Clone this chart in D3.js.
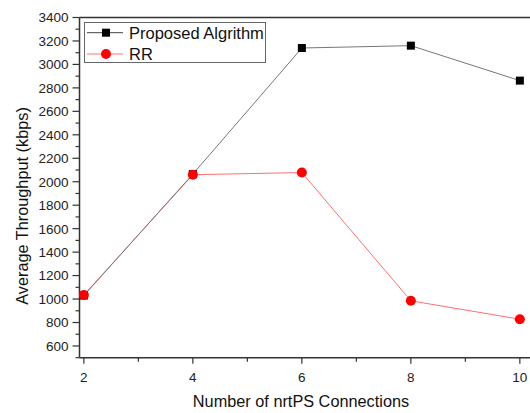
<!DOCTYPE html>
<html>
<head>
<meta charset="utf-8">
<script src="https://cdn.jsdelivr.net/npm/d3@7"></script>
<style>
  body { margin: 0; background: #fff; }
  svg { display: block; font-family: "Liberation Sans", Arial, sans-serif; }
</style>
</head>
<body>
<div id="chart"></div>
<script>
// values
var connections = [2, 4, 6, 8, 10];
var proposedVals = [1030, 2065, 3140, 3160, 2862];
var rrVals = [1035, 2060, 2078, 985, 828];
var seriesNames = ["Proposed Algrithm", "RR"];
var yTicks = [600, 800, 1000, 1200, 1400, 1600, 1800, 2000, 2200, 2400, 2600, 2800, 3000, 3200, 3400];
var xTicks = [2, 4, 6, 8, 10];

var width = 530, height = 413;
var plotLeft = 79.5, plotTop = 17.5, plotBottom = 357.7;

var svg = d3.select("#chart").append("svg")
    .attr("width", width)
    .attr("height", height);

var x = d3.scaleLinear().domain([1.92, 10.2]).range([plotLeft, plotLeft + 8.28 * 54.5]);
var y = d3.scaleLinear().domain([500, 3400]).range([plotBottom, plotTop]);

// top frame line
svg.append("line")
    .attr("x1", plotLeft).attr("x2", width)
    .attr("y1", plotTop).attr("y2", plotTop)
    .attr("stroke", "#333").attr("stroke-width", 1.5);

// y axis, major + minor
var yAxis = svg.append("g").attr("transform", "translate(" + plotLeft + ",0)");
yAxis.append("line")
    .attr("x1", 0).attr("x2", 0).attr("y1", plotTop).attr("y2", plotBottom)
    .attr("stroke", "#333").attr("stroke-width", 1.5);
yAxis.selectAll(".minor").data(d3.range(500, 3400, 100).filter(function(d){ return d % 200 != 0; }))
  .enter().append("line")
    .attr("x1", -4).attr("x2", 0)
    .attr("y1", function(d){ return y(d); }).attr("y2", function(d){ return y(d); })
    .attr("stroke", "#333").attr("stroke-width", 1.2);
yAxis.selectAll(".major").data(yTicks).enter().append("line")
    .attr("x1", -7).attr("x2", 0)
    .attr("y1", function(d){ return y(d); }).attr("y2", function(d){ return y(d); })
    .attr("stroke", "#333").attr("stroke-width", 1.2);
yAxis.selectAll("text").data(yTicks).enter().append("text")
    .attr("x", -11)
    .attr("y", function(d){ return y(d); })
    .attr("dy", "0.36em")
    .attr("text-anchor", "end")
    .attr("font-size", 13.5)
    .attr("fill", "#222")
    .text(function(d){ return d; });

// x axis
var xAxis = svg.append("g").attr("transform", "translate(0," + plotBottom + ")");
xAxis.append("line")
    .attr("x1", plotLeft).attr("x2", width).attr("y1", 0).attr("y2", 0)
    .attr("stroke", "#333").attr("stroke-width", 1.5);
xAxis.selectAll(".minor").data([3, 5, 7, 9]).enter().append("line")
    .attr("x1", function(d){ return x(d); }).attr("x2", function(d){ return x(d); })
    .attr("y1", 0).attr("y2", 4)
    .attr("stroke", "#333").attr("stroke-width", 1.2);
xAxis.selectAll(".major").data(xTicks).enter().append("line")
    .attr("x1", function(d){ return x(d); }).attr("x2", function(d){ return x(d); })
    .attr("y1", 0).attr("y2", 6)
    .attr("stroke", "#333").attr("stroke-width", 1.2);
xAxis.selectAll("text").data(xTicks).enter().append("text")
    .attr("x", function(d){ return x(d); })
    .attr("y", 15)
    .attr("dy", "0.71em")
    .attr("text-anchor", "middle")
    .attr("font-size", 13.5)
    .attr("fill", "#222")
    .text(function(d){ return d; });

// titles
svg.append("text")
    .attr("x", 301).attr("y", 407)
    .attr("text-anchor", "middle")
    .attr("font-size", 16.3)
    .attr("fill", "#111")
    .text("Number of nrtPS Connections");
svg.append("text")
    .attr("transform", "translate(28,206) rotate(-90)")
    .attr("text-anchor", "middle")
    .attr("font-size", 16.3)
    .attr("fill", "#111")
    .text("Average Throughput (kbps)");

var line = d3.line()
    .x(function(d, i){ return x(connections[i]); })
    .y(function(d){ return y(d); });

// RR
svg.append("path")
    .attr("d", line(rrVals))
    .attr("fill", "none")
    .attr("stroke", "#ff7070")
    .attr("stroke-width", 1);
// proposed
svg.append("path")
    .attr("d", line(proposedVals))
    .attr("fill", "none")
    .attr("stroke", "#777")
    .attr("stroke-width", 1);

svg.selectAll(".sq").data(proposedVals).enter().append("rect")
    .attr("x", function(d, i){ return x(connections[i]) - 4; })
    .attr("y", function(d){ return y(d) - 4; })
    .attr("width", 8).attr("height", 8)
    .attr("fill", "#000");
svg.selectAll(".dot").data(rrVals).enter().append("circle")
    .attr("cx", function(d, i){ return x(connections[i]); })
    .attr("cy", function(d){ return y(d); })
    .attr("r", 5)
    .attr("fill", "#ff0000");

// legend
var legend = svg.append("g");
legend.append("rect")
    .attr("x", 84.5).attr("y", 22.5)
    .attr("width", 181).attr("height", 40)
    .attr("fill", "#fff")
    .attr("stroke", "#666").attr("stroke-width", 1);
var rows = legend.selectAll(".row").data(seriesNames).enter().append("g")
    .attr("transform", function(d, i){ return "translate(0," + (i == 0 ? 32.7 : 54) + ")"; });
rows.append("line")
    .attr("x1", 87).attr("x2", 123).attr("y1", 0).attr("y2", 0)
    .attr("stroke", function(d, i){ return i == 0 ? "#444" : "#ff7070"; })
    .attr("stroke-width", 1);
rows.filter(function(d, i){ return i == 0; }).append("rect")
    .attr("x", 102).attr("y", -4).attr("width", 8).attr("height", 8)
    .attr("fill", "#000");
rows.filter(function(d, i){ return i == 1; }).append("circle")
    .attr("cx", 106).attr("cy", 0).attr("r", 5)
    .attr("fill", "#ff0000");
rows.append("text")
    .attr("x", 129).attr("y", 0).attr("dy", "0.36em")
    .attr("font-size", 16.5)
    .attr("fill", "#111")
    .text(function(d){ return d; });
</script>
</body>
</html>
